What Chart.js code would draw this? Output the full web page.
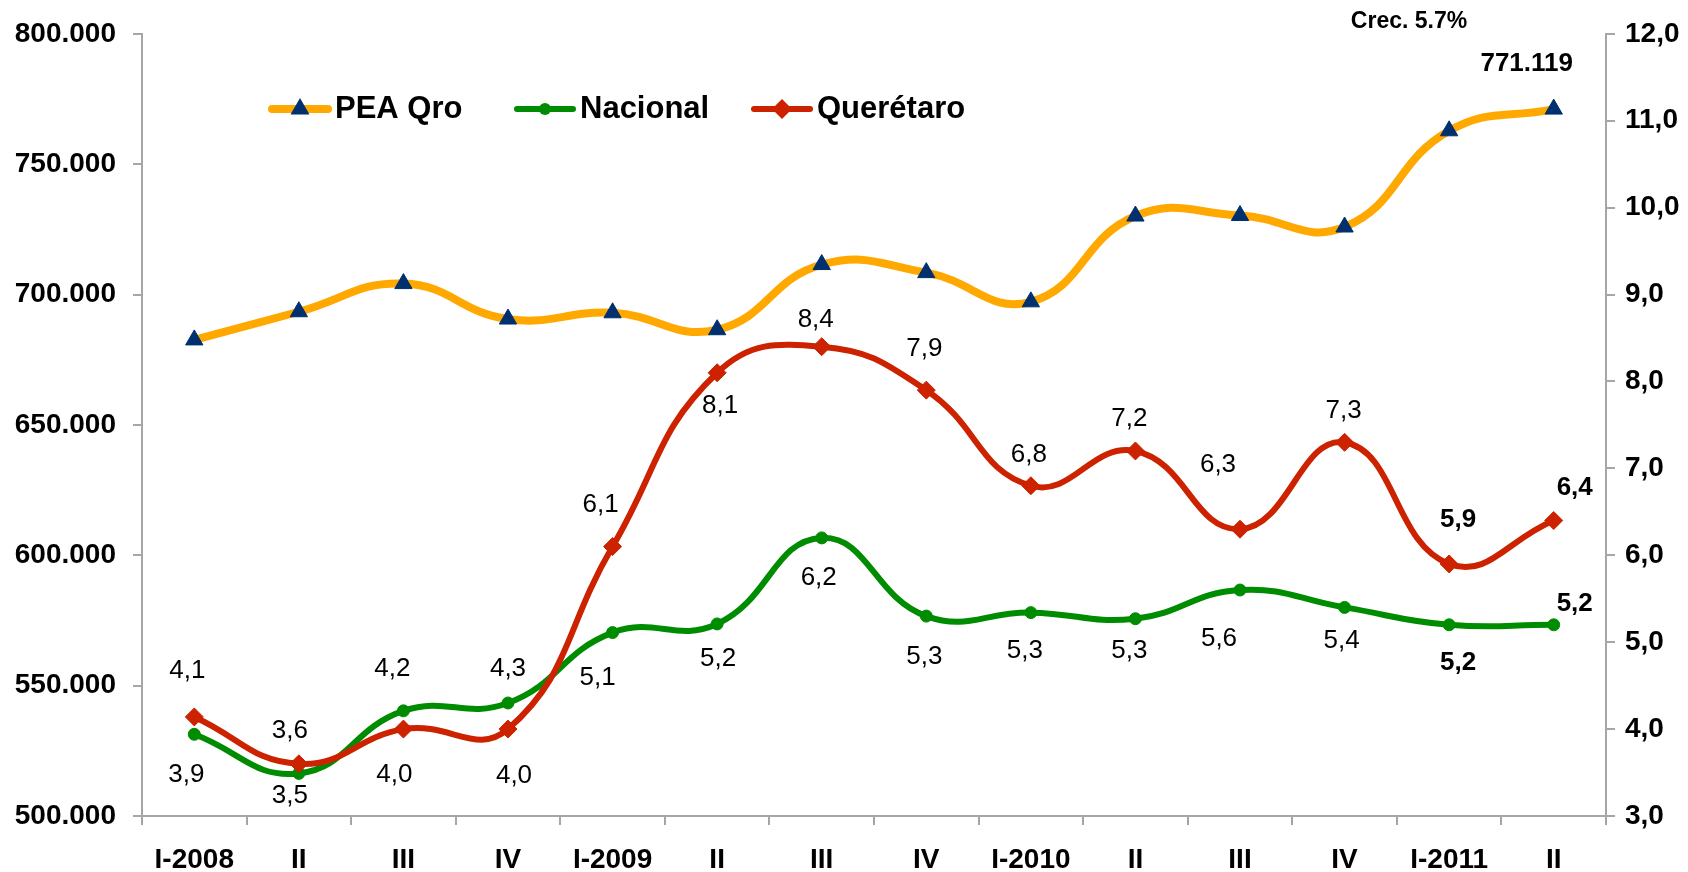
<!DOCTYPE html>
<html>
<head>
<meta charset="utf-8">
<title>PEA Querétaro</title>
<script src="https://cdn.jsdelivr.net/npm/chart.js"></script>
<style>
    body { margin: 0; background: #fff; }
    canvas { display: block; }
</style>
</head>
<body>
<canvas id="peaChart" width="1688" height="872"></canvas>
<script>
// datos
const categories = ['I-2008', 'II', 'III', 'IV', 'I-2009', 'II', 'III', 'IV', 'I-2010', 'II', 'III', 'IV', 'I-2011', 'II'];
const peaQro = [682600, 693400, 704200, 690600, 693000, 686500, 711500, 708400, 697200, 730100, 730300, 725900, 762800, 771119];
const nacional = [3.94, 3.49, 4.21, 4.3, 5.11, 5.21, 6.2, 5.3, 5.34, 5.27, 5.6, 5.4, 5.2, 5.2];
const queretaro = [4.14, 3.6, 4.0, 4.0, 6.1, 8.1, 8.4, 7.9, 6.8, 7.2, 6.3, 7.3, 5.9, 6.4];

const leftTicks = [500000, 550000, 600000, 650000, 700000, 750000, 800000];
const rightTicks = [3, 4, 5, 6, 7, 8, 9, 10, 11, 12];
const growthNote = 'Crec. 5.7%';

// donde va cada etiqueta respecto a su punto (dx, dy)
const nacionalLabelPos = [[-8, 41], [-9, 22], [-11, -42], [0, -34], [-15, 45], [1, 35], [-3, 40], [-2, 41], [-6, 38], [-6, 32], [-21, 49], [-3, 33], [9, 38], [21, -21]];
const queretaroLabelPos = [[-7, -46], [-9, -33], [-9, 46], [6, 47], [-12, -42], [3, 33], [-6, -27], [-2, -41], [-2, -31], [-6, -32], [-22, -64], [-1, -31], [9, -44], [21, -33]];
const peaLabelPos = {13: [-27, -45]};
const boldFrom = 12;

const FONT = "'Liberation Sans', Arial, sans-serif";
const AXIS_GRAY = '#a6a6a6';
const ORANGE = '#ffa800', NAVY = '#00306e', GREEN = '#008c00', RED = '#cc2200';

function thousands(v) {
    return String(Math.round(v)).replace(/\B(?=(\d{3})+(?!\d))/g, '.');
}
function decimalComma(v) {
    return v.toFixed(1).replace('.', ',');
}

function drawMarker(ctx, style, x, y, r, color) {
    ctx.fillStyle = color;
    ctx.beginPath();
    if (style === 'triangle') {
        ctx.moveTo(x, y - r);
        ctx.lineTo(x + r * 0.866, y + r * 0.5);
        ctx.lineTo(x - r * 0.866, y + r * 0.5);
    } else if (style === 'rectRot') {
        ctx.moveTo(x, y - r);
        ctx.lineTo(x + r, y);
        ctx.lineTo(x, y + r);
        ctx.lineTo(x - r, y);
    } else {
        ctx.arc(x, y, r, 0, Math.PI * 2);
    }
    ctx.closePath();
    ctx.fill();
}

// etiquetas de valores sobre los puntos
const pointLabels = {
    id: 'pointLabels',
    afterDatasetsDraw(chart) {
        const ctx = chart.ctx;
        const setups = [
            {pos: peaLabelPos, fmt: thousands},
            {pos: nacionalLabelPos, fmt: decimalComma},
            {pos: queretaroLabelPos, fmt: decimalComma}
        ];
        ctx.save();
        ctx.fillStyle = '#000';
        ctx.textAlign = 'center';
        ctx.textBaseline = 'middle';
        chart.data.datasets.forEach((ds, i) => {
            const meta = chart.getDatasetMeta(i);
            const setup = setups[i];
            meta.data.forEach((pt, j) => {
                const off = setup.pos[j];
                if (!off) return;
                const bold = i === 0 || j >= boldFrom;
                ctx.font = (bold ? 'bold ' : '') + '26px ' + FONT;
                ctx.fillText(setup.fmt(ds.data[j]), pt.x + off[0], pt.y + off[1]);
            });
        });
        ctx.restore();
    }
};

// leyenda dentro del area y nota de crecimiento
const innerLegend = {
    id: 'innerLegend',
    afterDraw(chart) {
        const ctx = chart.ctx;
        const items = [
            {x: 272, ds: chart.data.datasets[0], marker: 'triangle', r: 11, mColor: NAVY},
            {x: 517, ds: chart.data.datasets[1], marker: 'circle', r: 6, mColor: GREEN},
            {x: 754, ds: chart.data.datasets[2], marker: 'rectRot', r: 10, mColor: RED}
        ];
        const y = 109;
        ctx.save();
        items.forEach(it => {
            ctx.strokeStyle = it.ds.borderColor;
            ctx.lineWidth = it.ds.borderWidth;
            ctx.lineCap = 'round';
            ctx.beginPath();
            ctx.moveTo(it.x, y);
            ctx.lineTo(it.x + 56, y);
            ctx.stroke();
            drawMarker(ctx, it.marker, it.x + 28, y, it.r, it.mColor);
            ctx.fillStyle = '#000';
            ctx.font = 'bold 31px ' + FONT;
            ctx.textAlign = 'left';
            ctx.textBaseline = 'middle';
            ctx.fillText(it.ds.label, it.x + 63, y);
        });
        ctx.font = 'bold 23px ' + FONT;
        ctx.textAlign = 'center';
        ctx.fillText(growthNote, 1409, 22);
        ctx.restore();
    }
};

const ctx = document.getElementById('peaChart').getContext('2d');
const peaChart = new Chart(ctx, {
    type: 'line',
    data: {
        labels: categories,
        datasets: [
            {
                label: 'PEA Qro',
                data: peaQro,
                yAxisID: 'y',
                borderColor: ORANGE,
                borderWidth: 8,
                pointStyle: 'triangle',
                pointRadius: 10,
                pointBackgroundColor: NAVY,
                pointBorderColor: NAVY,
                pointBorderWidth: 1,
                tension: 0.45,
                order: 0
            },
            {
                label: 'Nacional',
                data: nacional,
                yAxisID: 'y1',
                borderColor: GREEN,
                borderWidth: 6,
                pointStyle: 'circle',
                pointRadius: 6,
                pointBackgroundColor: GREEN,
                pointBorderColor: GREEN,
                pointBorderWidth: 1,
                tension: 0.45,
                order: 2
            },
            {
                label: 'Querétaro',
                data: queretaro,
                yAxisID: 'y1',
                borderColor: RED,
                borderWidth: 6,
                pointStyle: 'rectRot',
                pointRadius: 9,
                pointBackgroundColor: RED,
                pointBorderColor: RED,
                pointBorderWidth: 1,
                tension: 0.45,
                order: 1
            }
        ]
    },
    options: {
        responsive: false,
        animation: false,
        layout: {padding: {top: 31, left: 0, right: 0, bottom: 0}},
        plugins: {
            legend: {display: false},
            tooltip: {enabled: false}
        },
        scales: {
            x: {
                offset: true,
                grid: {offset: true, drawOnChartArea: false, color: AXIS_GRAY, lineWidth: 2, tickLength: 9},
                border: {color: AXIS_GRAY, width: 2},
                ticks: {
                    color: '#000',
                    font: {family: FONT, size: 28, weight: 'bold'},
                    padding: 18,
                    maxRotation: 0,
                    autoSkip: false
                },
                afterFit(scale) { scale.height = 56; }
            },
            y: {
                position: 'left',
                min: 500000,
                max: 800000,
                grid: {drawOnChartArea: false, color: AXIS_GRAY, lineWidth: 2, tickLength: 9},
                border: {color: AXIS_GRAY, width: 2},
                ticks: {
                    color: '#000',
                    font: {family: FONT, size: 28, weight: 'bold'},
                    padding: 17,
                    callback: v => thousands(v)
                },
                afterBuildTicks(scale) { scale.ticks = leftTicks.map(v => ({value: v})); },
                afterFit(scale) { scale.width = 142; }
            },
            y1: {
                position: 'right',
                min: 3,
                max: 12,
                grid: {drawOnChartArea: false, color: AXIS_GRAY, lineWidth: 2, tickLength: 9},
                border: {color: AXIS_GRAY, width: 2},
                ticks: {
                    color: '#000',
                    font: {family: FONT, size: 28, weight: 'bold'},
                    padding: 10,
                    callback: v => decimalComma(v)
                },
                afterBuildTicks(scale) { scale.ticks = rightTicks.map(v => ({value: v})); },
                afterFit(scale) { scale.width = 82; }
            }
        }
    },
    plugins: [pointLabels, innerLegend]
});
</script>
</body>
</html>
